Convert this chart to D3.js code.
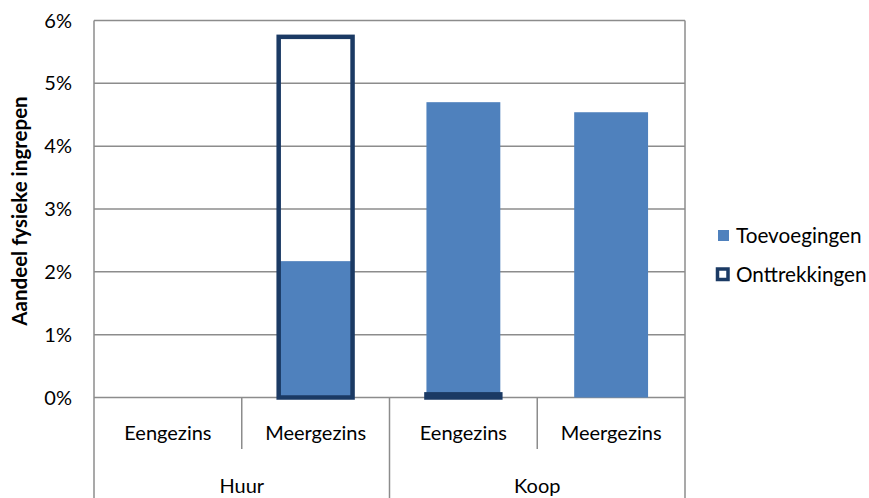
<!DOCTYPE html>
<html>
<head>
<meta charset="utf-8">
<script src="https://cdn.jsdelivr.net/npm/d3@7"></script>
<style>
  body { margin: 0; background: #fff; }
  svg { display: block; }
  text { font-family: Lato, "Open Sans", sans-serif; fill: #000; }
</style>
</head>
<body>
<svg id="chart" width="869" height="498"></svg>
<script>
// ---- data ----
const groups = ["Huur", "Huur", "Koop", "Koop"];
const categories = ["Eengezins", "Meergezins", "Eengezins", "Meergezins"];
const toevoegingen = [0, 2.17, 4.70, 4.54];      // %
const onttrekkingen = [0, 5.74, 0.05, 0];         // %
const yTicks = [0, 1, 2, 3, 4, 5, 6];
const seriesNames = ["Toevoegingen", "Onttrekkingen"];
const yTitle = "Aandeel fysieke ingrepen";

// ---- layout ----
const W = 869, H = 498;
const plot = { left: 94, right: 685, top: 20.5, bottom: 397.5 };
const fillColor = "#4F81BD";
const outlineColor = "#1B3A64";
const gridColor = "#8c8c8c";
const fontSize = 20;

const svg = d3.select("#chart");
const keys = categories.map((c, i) => i);

const x = d3.scaleBand().domain(keys).range([plot.left, plot.right]).paddingInner(0).paddingOuter(0);
const y = d3.scaleLinear().domain([0, 6]).range([plot.bottom, plot.top]);
const barW = x.bandwidth() * 0.5;

// gridlines
svg.append("g").selectAll("line").data(yTicks).join("line")
  .attr("x1", plot.left).attr("x2", plot.right)
  .attr("y1", d => y(d)).attr("y2", d => y(d))
  .attr("stroke", gridColor).attr("stroke-width", 1.5);

// plot border verticals (left axis and right border, extending into category area)
svg.append("line").attr("x1", plot.left).attr("x2", plot.left).attr("y1", plot.top).attr("y2", H)
  .attr("stroke", gridColor).attr("stroke-width", 1.5);
svg.append("line").attr("x1", plot.right).attr("x2", plot.right).attr("y1", plot.top).attr("y2", H)
  .attr("stroke", gridColor).attr("stroke-width", 1.5);

// category separators
const groupNames = Array.from(new Set(groups));
keys.forEach(i => {
  if (i === 0) return;
  const xx = x(i);
  const isGroupBoundary = groups[i] !== groups[i - 1];
  svg.append("line").attr("x1", xx).attr("x2", xx)
    .attr("y1", plot.bottom).attr("y2", isGroupBoundary ? H : 449)
    .attr("stroke", gridColor).attr("stroke-width", 1.5);
});

// y tick labels
svg.append("g").selectAll("text").data(yTicks).join("text")
  .attr("x", 72).attr("y", d => y(d)).attr("dy", "0.35em")
  .attr("text-anchor", "end").attr("font-size", fontSize)
  .text(d => d + "%");

// y axis title
svg.append("text")
  .attr("transform", `translate(27,${(plot.top + plot.bottom) / 2 + 2}) rotate(-90)`)
  .attr("text-anchor", "middle").attr("font-size", 20.5).attr("font-weight", "bold")
  .text(yTitle);

// category labels
svg.append("g").selectAll("text").data(keys).join("text")
  .attr("x", d => x(d) + x.bandwidth() / 2).attr("y", 440)
  .attr("text-anchor", "middle").attr("font-size", fontSize)
  .text(d => categories[d]);

// group labels
groupNames.forEach(g => {
  const idx = keys.filter(i => groups[i] === g);
  const x0 = x(idx[0]), x1 = x(idx[idx.length - 1]) + x.bandwidth();
  svg.append("text").attr("x", (x0 + x1) / 2).attr("y", 493)
    .attr("text-anchor", "middle").attr("font-size", fontSize).text(g);
});

// toevoegingen bars
svg.append("g").selectAll("rect").data(keys.filter(i => toevoegingen[i] > 0)).join("rect")
  .attr("x", d => x(d) + (x.bandwidth() - barW) / 2)
  .attr("width", barW)
  .attr("y", d => y(toevoegingen[d]))
  .attr("height", d => y(0) - y(toevoegingen[d]))
  .attr("fill", fillColor);

// onttrekkingen outlined bars
svg.append("g").selectAll("rect").data(keys.filter(i => onttrekkingen[i] > 0)).join("rect")
  .attr("x", d => x(d) + (x.bandwidth() - barW) / 2)
  .attr("width", barW)
  .attr("y", d => y(onttrekkingen[d]))
  .attr("height", d => y(0) - y(onttrekkingen[d]))
  .attr("fill", "none")
  .attr("stroke", outlineColor).attr("stroke-width", 4.5);

// legend
const lg = svg.append("g");
lg.append("rect").attr("x", 718).attr("y", 230).attr("width", 11).attr("height", 11).attr("fill", fillColor);
lg.append("text").attr("x", 736).attr("y", 243).attr("font-size", 20.7).text(seriesNames[0]);
lg.append("rect").attr("x", 717.5).attr("y", 269).attr("width", 10.5).attr("height", 10.5)
  .attr("fill", "#fff").attr("stroke", outlineColor).attr("stroke-width", 3.5);
lg.append("text").attr("x", 736).attr("y", 282).attr("font-size", 20.7).text(seriesNames[1]);
</script>
</body>
</html>
